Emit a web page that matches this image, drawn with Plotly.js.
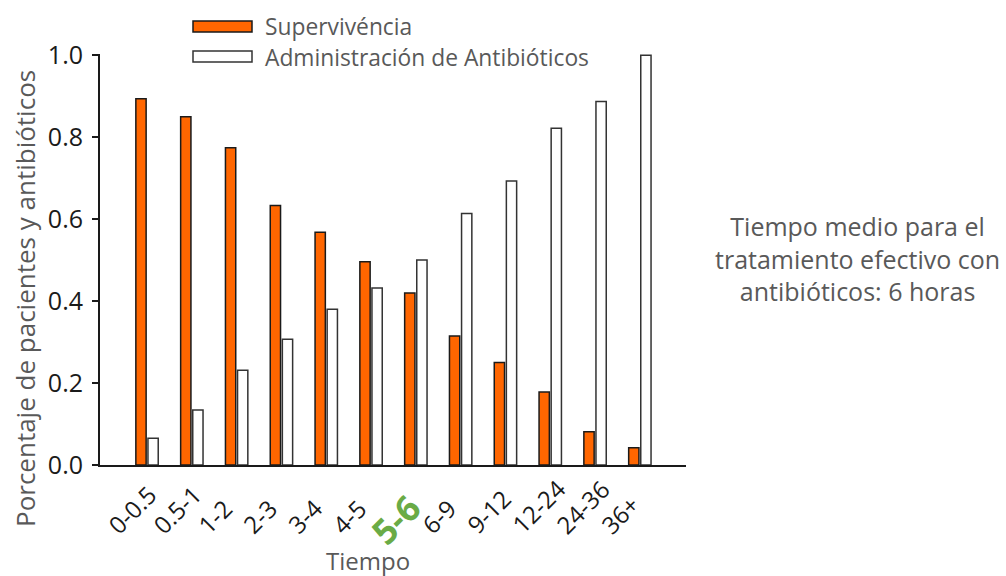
<!DOCTYPE html>
<html>
<head>
<meta charset="utf-8">
<script src="https://cdn.plot.ly/plotly-3.0.1.min.js"></script>
<style>html,body{margin:0;padding:0;background:#fff;}#chart{width:1006px;height:576px;}</style>
</head>
<body>
<div id="chart"></div>
<script>
const categories = ["0-0.5","0.5-1","1-2","2-3","3-4","4-5","5-6","6-9","9-12","12-24","24-36","36+"];
const supervivencia = [0.894,0.850,0.774,0.633,0.568,0.496,0.420,0.315,0.250,0.178,0.081,0.042];
const antibioticos = [0.065,0.134,0.231,0.307,0.380,0.432,0.500,0.614,0.693,0.822,0.887,1.0];
const yTicks = [0,0.2,0.4,0.6,0.8,1.0];
const yTickLabels = ["0.0","0.2","0.4","0.6","0.8","1.0"];
const highlight = "5-6";
const seriesNames = ["Supervivéncia","Administración de Antibióticos"];
const noteText = "Tiempo medio para el<br>tratamiento efectivo con<br>antibióticos: 6 horas";

const FONT = "Open Sans, Noto Sans, sans-serif";
const GRAY = "#595959";
const ORANGE = "#FF6600";
const GREEN = "#6AAB46";

// paper helpers: plot area spans pixel columns 100..686 and rows 54..465
const py = Y => (465 - Y) / 411;
const px = X => (X - 100) / 586;

// category tick labels, anchored at their start like the reference (rotated -45)
const tickAnnotations = categories.map(c => {
  const hi = c === highlight;
  return {
    text: hi ? '<b>' + c + '</b>' : c,
    xref: "x", yref: "paper", x: c, y: py(hi ? 557 : 543),
    xanchor: "left", yanchor: "bottom", textangle: -45,
    xshift: hi ? -58 : -49, showarrow: false,
    font: {family: FONT, size: hi ? 35 : 24, color: hi ? GREEN : "#1a1a1a"}
  };
});

const traces = [
  {type:"bar", x:categories, y:supervivencia, name:seriesNames[0], showlegend:false,
   marker:{color:ORANGE, line:{color:"#1a1a1a", width:1.5}}},
  {type:"bar", x:categories, y:antibioticos, name:seriesNames[1], showlegend:false,
   marker:{color:"#ffffff", line:{color:"#333333", width:1.5}}}
];

const layout = {
  width:1006, height:576,
  margin:{l:100, r:320, t:54, b:111},
  paper_bgcolor:"#fff", plot_bgcolor:"#fff",
  font:{family:FONT, color:"#1a1a1a"},
  barmode:"group", bargap:0.46, bargroupgap:0.15,
  xaxis:{
    type:"category", range:[-1.05, 12.03],
    tickmode:"array", tickvals:categories, showticklabels:false,
    ticks:"", showgrid:false, zeroline:false,
    showline:true, linecolor:"#1a1a1a", linewidth:2
  },
  yaxis:{
    range:[0,1.003], tickmode:"array", tickvals:yTicks, ticktext:yTickLabels,
    ticks:"outside", ticklen:6, tickwidth:2, tickcolor:"#1a1a1a",
    ticklabelstandoff:4,
    showgrid:false, zeroline:false, showline:true, linecolor:"#1a1a1a", linewidth:2,
    tickfont:{family:FONT, size:25, color:"#1a1a1a"}
  },
  shapes:[
    {type:"rect", xref:"paper", yref:"paper", x0:px(193), x1:px(252),
     y0:py(32), y1:py(21), fillcolor:ORANGE, line:{color:"#1a1a1a", width:1.5}},
    {type:"rect", xref:"paper", yref:"paper", x0:px(193), x1:px(252),
     y0:py(62), y1:py(51), fillcolor:"#fff", line:{color:"#333", width:1.5}}
  ],
  annotations: tickAnnotations.concat([
    {text:seriesNames[0], xref:"paper", yref:"paper", x:px(263), y:py(26),
     xanchor:"left", yanchor:"middle", showarrow:false, font:{family:FONT, size:22.8, color:GRAY}},
    {text:seriesNames[1], xref:"paper", yref:"paper", x:px(263), y:py(57),
     xanchor:"left", yanchor:"middle", showarrow:false, font:{family:FONT, size:22.8, color:GRAY}},
    {text:"Porcentaje de pacientes y antibióticos", xref:"paper", yref:"paper",
     x:px(25), y:py(299), textangle:-90, xanchor:"center", yanchor:"middle",
     showarrow:false, font:{family:FONT, size:26, color:GRAY}},
    {text:"Tiempo", xref:"paper", yref:"paper", x:px(368), y:py(560),
     xanchor:"center", yanchor:"middle", showarrow:false, font:{family:FONT, size:24, color:GRAY}},
    {text:noteText, xref:"paper", yref:"paper", x:px(857), y:py(258),
     xanchor:"center", yanchor:"middle", align:"center", showarrow:false,
     font:{family:FONT, size:25, color:GRAY}}
  ])
};

Plotly.newPlot("chart", traces, layout, {displayModeBar:false, staticPlot:true});
</script>
</body>
</html>
